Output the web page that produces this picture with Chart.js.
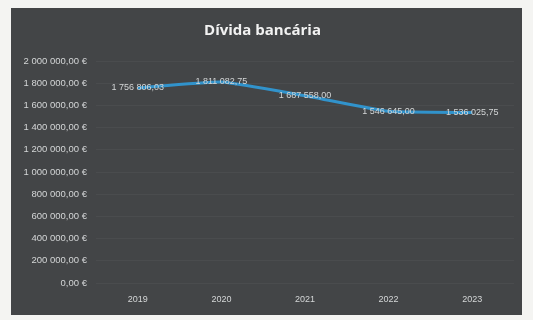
<!DOCTYPE html>
<html>
<head>
<meta charset="utf-8">
<script src="https://cdn.jsdelivr.net/npm/chart.js@4"></script>
<style>
  html, body { margin: 0; padding: 0; background: #f4f4f2; }
  #panel {
    position: absolute; left: 11px; top: 8px;
    width: 511px; height: 307px;
    background: #434547;
  }
  canvas { display: block; }
</style>
</head>
<body>
<div id="panel"><canvas id="dividaChart" width="511" height="307"></canvas></div>
<script>
const years = ["2019", "2020", "2021", "2022", "2023"];
const dividaValues = [1756806.03, 1811082.75, 1687558.00, 1546645.00, 1536025.75];
const yTicks = [0, 200000, 400000, 600000, 800000, 1000000, 1200000, 1400000, 1600000, 1800000, 2000000];

// portuguese number format: 1 234 567,89
function formatPt(v) {
    const parts = v.toFixed(2).split(".");
    const int = parts[0].replace(/\B(?=(\d{3})+(?!\d))/g, " ");
    return int + "," + parts[1];
}

// value labels centred on each point
const valueLabels = {
    id: "valueLabels",
    afterDatasetsDraw(chart) {
        const ctx = chart.ctx;
        const meta = chart.getDatasetMeta(0);
        ctx.save();
        ctx.font = "9px 'Liberation Sans'";
        ctx.fillStyle = "#d4d6d7";
        ctx.textAlign = "center";
        ctx.textBaseline = "middle";
        meta.data.forEach((pt, i) => {
            ctx.fillText(formatPt(chart.data.datasets[0].data[i]), pt.x, pt.y);
        });
        ctx.restore();
    }
};

new Chart(document.getElementById("dividaChart").getContext("2d"), {
    type: "line",
    data: {
        labels: years,
        datasets: [{
            label: "Dívida bancária",
            data: dividaValues,
            borderColor: "#3193cc",
            borderWidth: 3,
            pointRadius: 0,
            tension: 0.15,
            fill: false
        }]
    },
    options: {
        responsive: false,
        animation: false,
        layout: { padding: { top: 6, right: 8, bottom: 8, left: 0 } },
        plugins: {
            legend: { display: false },
            tooltip: { enabled: false },
            title: {
                display: true,
                text: "Dívida bancária",
                color: "#f2f2f2",
                font: { family: "'Open Sans'", size: 15, weight: "bold" },
                padding: { top: 8, bottom: 21 }
            }
        },
        scales: {
            x: {
                offset: true,
                grid: { display: false, drawTicks: false },
                border: { display: false },
                ticks: { color: "#d4d6d7", font: { family: "'Liberation Sans'", size: 9 }, padding: 11 },
                afterFit: s => { s.height = 24; }
            },
            y: {
                min: 0,
                max: 2000000,
                afterBuildTicks: s => { s.ticks = yTicks.map(v => ({ value: v })); },
                grid: { color: "rgba(255,255,255,0.04)", drawTicks: false },
                border: { display: false },
                ticks: {
                    color: "#d4d6d7",
                    font: { family: "'Liberation Sans'", size: 9.5 },
                    padding: 9,
                    callback: v => formatPt(v) + " €"
                },
                afterFit: s => { s.width = 85; }
            }
        }
    },
    plugins: [valueLabels]
});
</script>
</body>
</html>
